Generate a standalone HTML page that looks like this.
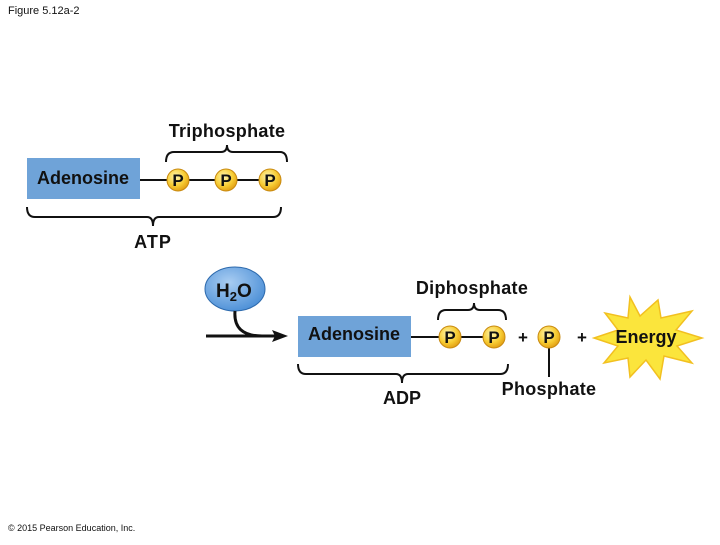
<!DOCTYPE html>
<html><head><style>
body{margin:0;width:720px;height:540px;background:#fff;overflow:hidden}
svg text{font-family:"Liberation Sans",Arial,sans-serif;font-weight:bold;fill:#111}
</style></head><body>
<svg width="720" height="540" viewBox="0 0 720 540" xmlns="http://www.w3.org/2000/svg">
<defs>
<radialGradient id="pg" cx="0.4" cy="0.35" r="0.7">
<stop offset="0" stop-color="#fff6b0"/><stop offset="0.6" stop-color="#f7cc33"/><stop offset="1" stop-color="#e09a10"/>
</radialGradient>
<radialGradient id="hg" cx="0.4" cy="0.35" r="0.7">
<stop offset="0" stop-color="#a9cdf2"/><stop offset="1" stop-color="#4a8ed6"/>
</radialGradient>
</defs>
<text x="8" y="14" font-size="11" style="font-weight:normal">Figure 5.12a-2</text>
<text x="8" y="531" font-size="9" style="font-weight:normal">© 2015 Pearson Education, Inc.</text>

<text x="227" y="137" font-size="18" text-anchor="middle" style="font-weight:bold;letter-spacing:0.3px">Triphosphate</text>
<path d="M166,162 Q166,152 174,152 L221,152 Q227,152 227,145 Q227,152 233,152 L280,152 Q287,152 287,162" fill="none" stroke="#111" stroke-width="2"/>
<rect x="27" y="158" width="113" height="41" fill="#6fa3d8"/>
<text x="83" y="184" font-size="18" text-anchor="middle">Adenosine</text>
<line x1="140" y1="180" x2="270" y2="180" stroke="#111" stroke-width="2"/>
<circle cx="178" cy="180" r="11" fill="url(#pg)" stroke="#c98a10"/><text x="178" y="186" text-anchor="middle" font-size="17">P</text>
<circle cx="226" cy="180" r="11" fill="url(#pg)" stroke="#c98a10"/><text x="226" y="186" text-anchor="middle" font-size="17">P</text>
<circle cx="270" cy="180" r="11" fill="url(#pg)" stroke="#c98a10"/><text x="270" y="186" text-anchor="middle" font-size="17">P</text>
<path d="M27,207 Q27,217 35,217 L147,217 Q153,217 153,226 Q153,217 159,217 L273,217 Q281,217 281,207" fill="none" stroke="#111" stroke-width="2"/>
<text x="153" y="248" font-size="18" text-anchor="middle" style="font-weight:bold;letter-spacing:1px">ATP</text>

<ellipse cx="235" cy="289" rx="30" ry="22" fill="url(#hg)" stroke="#2d6aad"/>
<text x="216" y="297" font-size="19">H<tspan font-size="13" dy="4">2</tspan><tspan dy="-4">O</tspan></text>
<path d="M235,311 Q233,336 262,336" fill="none" stroke="#111" stroke-width="3"/>
<line x1="206" y1="336" x2="276" y2="336" stroke="#111" stroke-width="3"/>
<polygon points="288,336 272,330 275,336 272,342" fill="#111"/>
<rect x="298" y="316" width="113" height="41" fill="#6fa3d8"/>
<text x="354" y="340" font-size="18" text-anchor="middle">Adenosine</text>
<line x1="411" y1="337" x2="494" y2="337" stroke="#111" stroke-width="2"/>
<text x="472" y="294" font-size="18" text-anchor="middle" style="font-weight:bold;letter-spacing:0.3px">Diphosphate</text>
<path d="M438,320 Q438,310 446,310 L468,310 Q474,310 474,303 Q474,310 480,310 L498,310 Q506,310 506,320" fill="none" stroke="#111" stroke-width="2"/>
<circle cx="450" cy="337" r="11" fill="url(#pg)" stroke="#c98a10"/><text x="450" y="343" text-anchor="middle" font-size="17">P</text>
<circle cx="494" cy="337" r="11" fill="url(#pg)" stroke="#c98a10"/><text x="494" y="343" text-anchor="middle" font-size="17">P</text>
<text x="523" y="343" font-size="17" text-anchor="middle">+</text>
<line x1="549" y1="345" x2="549" y2="377" stroke="#111" stroke-width="2"/>
<circle cx="549" cy="337" r="11" fill="url(#pg)" stroke="#c98a10"/><text x="549" y="343" text-anchor="middle" font-size="17">P</text>
<text x="582" y="343" font-size="17" text-anchor="middle">+</text>
<text x="549" y="395" font-size="18" text-anchor="middle" style="font-weight:bold;letter-spacing:0.3px">Phosphate</text>
<path d="M298,364 Q298,374 306,374 L396,374 Q402,374 402,383 Q402,374 408,374 L500,374 Q508,374 508,364" fill="none" stroke="#111" stroke-width="2"/>
<text x="402" y="404" font-size="18" text-anchor="middle">ADP</text>
<polygon points="630,297 640,316 658,300 661,318 692,311 676,330 702,338 677,346 692,363 664,356 660,379 646,360 630,377 628,358 604,363 618,346 594,338 618,330 605,313 628,318" fill="#fbe53c" stroke="#f2c020" stroke-width="1.5"/>
<text x="646" y="343" font-size="18" text-anchor="middle">Energy</text>
</svg>
</body></html>
